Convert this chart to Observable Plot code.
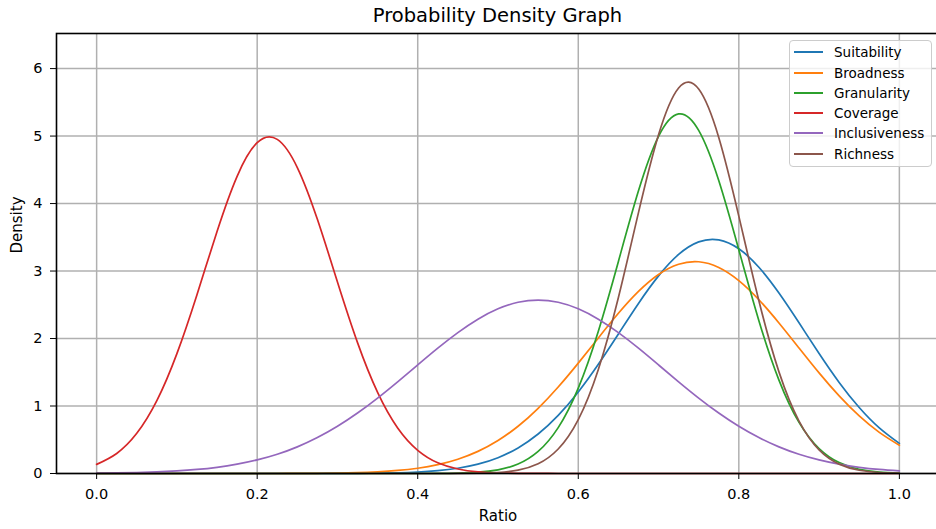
<!DOCTYPE html>
<html><head><meta charset="utf-8">
<script src="https://cdn.jsdelivr.net/npm/d3@7"></script>
<script src="https://cdn.jsdelivr.net/npm/@observablehq/plot@0.6"></script>
<style>
html,body{margin:0;padding:0;background:#fff;overflow:hidden;width:936px;height:529px;}
body{position:relative;font-family:"DejaVu Sans",sans-serif;color:#000;}
#title{position:absolute;left:56px;width:883px;top:6px;text-align:center;font-size:19.5px;line-height:1;}
#chart{position:absolute;left:0;top:30px;}
#legend{position:absolute;left:789px;top:40px;width:143px;height:127px;background:rgba(255,255,255,0.8);border:1px solid #cccccc;border-radius:4px;box-sizing:border-box;}
.sw{position:absolute;left:4px;width:29px;height:2px;}
.lt{position:absolute;left:44px;font-size:13.5px;line-height:1;white-space:nowrap;color:#000;}
</style>
</head><body>
<div id="title">Probability Density Graph</div>
<div id="chart"></div>
<div id="legend"></div>
<script>
const names = ["Suitability","Broadness","Granularity","Coverage","Inclusiveness","Richness"];
const colors = ["#1f77b4","#ff7f0e","#2ca02c","#d62728","#9467bd","#8c564b"];
const xTicks = [0,0.2,0.4,0.6,0.8,1.0];
const yTicks = [0,1,2,3,4,5,6];
const xs = [0,0.025,0.05,0.075,0.1,0.125,0.15,0.175,0.2,0.225,0.25,0.275,0.3,0.325,0.35,0.375,0.4,0.425,0.45,0.475,0.5,0.525,0.55,0.575,0.6,0.625,0.65,0.675,0.7,0.725,0.75,0.775,0.8,0.825,0.85,0.875,0.9,0.925,0.95,0.975,1.0];
const suitability = [0,0,0,0,0,0,0,0,0,0,0,0,0.001,0.002,0.005,0.010,0.021,0.042,0.078,0.138,0.234,0.379,0.585,0.861,1.209,1.619,2.068,2.520,2.928,3.246,3.432,3.462,3.330,3.056,2.674,2.233,1.778,1.350,0.978,0.676,0.446];
const broadness = [0,0,0,0,0,0,0,0,0,0,0.002,0.003,0.007,0.013,0.025,0.045,0.078,0.131,0.212,0.328,0.489,0.700,0.966,1.282,1.636,2.009,2.374,2.698,2.949,3.101,3.138,3.054,2.859,2.575,2.231,1.860,1.491,1.150,0.853,0.609,0.418];
const granularity = [0,0,0,0,0,0,0,0,0,0,0,0,0,0,0,0,0,0.002,0.006,0.019,0.054,0.140,0.327,0.680,1.266,2.109,3.142,4.188,4.995,5.328,5.084,4.341,3.315,2.265,1.384,0.757,0.370,0.162,0.063,0.022,0.007];
const coverage = [0.135,0.297,0.595,1.079,1.776,2.650,3.587,4.404,4.903,4.951,4.534,3.766,2.838,1.939,1.202,0.675,0.344,0.159,0.067,0.025,0.009,0.003,0.001,0,0,0,0,0,0,0,0,0,0,0,0,0,0,0,0,0,0];
const inclusiveness = [0.005,0.008,0.014,0.023,0.038,0.060,0.092,0.138,0.201,0.285,0.395,0.533,0.700,0.896,1.118,1.359,1.609,1.857,2.087,2.286,2.440,2.537,2.570,2.537,2.440,2.286,2.087,1.857,1.609,1.359,1.118,0.896,0.700,0.533,0.395,0.285,0.201,0.138,0.092,0.060,0.038];
const richness = [0,0,0,0,0,0,0,0,0,0,0,0,0,0,0,0,0,0,0.001,0.004,0.015,0.050,0.144,0.363,0.799,1.542,2.608,3.865,5.019,5.712,5.697,4.980,3.814,2.560,1.506,0.776,0.350,0.139,0.048,0.015,0.004];

const seriesValues = [suitability, broadness, granularity, coverage, inclusiveness, richness];
const table = [];
names.forEach((n, k) => xs.forEach((x, i) => table.push({series: n, x, y: seriesValues[k][i]})));

const chart = Plot.plot({
  width: 945, height: 499,
  marginLeft: 56, marginRight: 6, marginTop: 3, marginBottom: 56,
  style: {fontFamily: "DejaVu Sans", fontSize: "14.5px", color: "#000", background: "transparent", maxWidth: "none"},
  x: {domain: [-0.05, 1.05]},
  y: {domain: [0, 6.52]},
  color: {domain: names, range: colors},
  marks: [
    Plot.gridX(xTicks, {stroke: "#b0b0b0", strokeOpacity: 1, strokeWidth: 1.5}),
    Plot.gridY(yTicks, {stroke: "#b0b0b0", strokeOpacity: 1, strokeWidth: 1.5}),
    Plot.line(table, {x: "x", y: "y", z: "series", stroke: "series", strokeWidth: 1.7, curve: "natural"}),
    Plot.frame({stroke: "#000", strokeWidth: 1.6}),
    Plot.axisX(xTicks, {tickSize: 6, tickPadding: 9, tickFormat: d3.format(".1f"), label: null, fontSize: 14.5, stroke: "#000"}),
    Plot.axisY(yTicks, {tickSize: 6, tickPadding: 8, tickFormat: d3.format("d"), label: null, fontSize: 14.5, stroke: "#000"}),
    Plot.text(["Ratio"], {frameAnchor: "bottom", dy: 47, lineAnchor: "bottom", fontSize: 15, fill: "#000"}),
    Plot.text(["Density"], {frameAnchor: "left", dx: -35, rotate: -90, lineAnchor: "bottom", fontSize: 15, fill: "#000"})
  ]
});
document.getElementById("chart").appendChild(chart);

const legend = document.getElementById("legend");
names.forEach((n, i) => {
  const sw = document.createElement("div");
  sw.className = "sw";
  sw.style.top = (10.3 + 20.25 * i) + "px";
  sw.style.background = colors[i];
  legend.appendChild(sw);
  const t = document.createElement("div");
  t.className = "lt";
  t.style.top = (5.3 + 20.25 * i) + "px";
  t.textContent = n;
  legend.appendChild(t);
});
</script>
</body></html>
